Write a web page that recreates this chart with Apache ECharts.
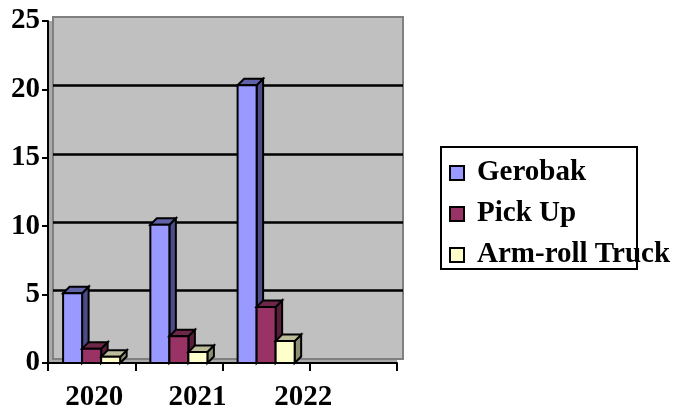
<!DOCTYPE html>
<html>
<head>
<meta charset="utf-8">
<script src="https://cdn.jsdelivr.net/npm/echarts@6/dist/echarts.min.js"></script>
<style>
  html, body { margin: 0; padding: 0; background: #ffffff; }
  #chart { width: 675px; height: 412px; }
</style>
</head>
<body>
<div id="chart"></div>
<script>
const years = ['2020', '2021', '2022', ''];
const yTicks = [0, 5, 10, 15, 20, 25];
const seriesNames = ['Gerobak', 'Pick Up', 'Arm-roll Truck'];
const gerobak = [5.1, 10.1, 20.3];
const pickUp = [1.05, 1.95, 4.1];
const armRoll = [0.45, 0.8, 1.6];

// front / side / top shading of each 3d bar
const faces = [
  { front: '#9999FF', side: '#4C4C88', top: '#6262A8' },
  { front: '#993366', side: '#5A1E3C', top: '#6E2649' },
  { front: '#FFFFCC', side: '#8E8E74', top: '#BDBD9C' }
];
const labelFont = 'Liberation Serif, Times New Roman, serif';

function bar3d(k) {
  return function (params, api) {
    const cat = api.value(0);
    const val = api.value(1);
    const top = api.coord([cat, val]);
    const base = api.coord([cat, 0]);
    const slot = api.size([1, 0])[0];
    const bw = slot * 0.218;
    const d = 6.5;
    const x0 = top[0] + (k - 1.5) * bw;
    const x1 = x0 + bw;
    const yt = top[1];
    const yb = base[1];
    const stroke = { stroke: '#000', lineWidth: 2, lineJoin: 'miter' };
    return {
      type: 'group',
      children: [
        {
          type: 'polygon',
          shape: { points: [[x1, yt], [x1 + d, yt - d], [x1 + d, yb - d], [x1, yb]] },
          style: Object.assign({ fill: faces[k].side }, stroke)
        },
        {
          type: 'polygon',
          shape: { points: [[x0, yt], [x0 + d, yt - d], [x1 + d, yt - d], [x1, yt]] },
          style: Object.assign({ fill: faces[k].top }, stroke)
        },
        {
          type: 'rect',
          shape: { x: x0, y: yt, width: bw, height: yb - yt },
          style: Object.assign({ fill: faces[k].front }, stroke)
        }
      ]
    };
  };
}

function toData(arr) {
  return arr.map((v, i) => [i, v]);
}

const xRich = {
  l0: { padding: [0, 0, 0, 5] },
  l1: { padding: [0, 0, 0, 37] },
  l2: { padding: [0, 0, 0, 74] },
  l3: {}
};
Object.keys(xRich).forEach(k => {
  Object.assign(xRich[k], { fontFamily: labelFont, fontWeight: 'bold', fontSize: 29, color: '#000' });
});

const option = {
  animation: false,
  backgroundColor: '#ffffff',
  graphic: [
    {
      type: 'rect',
      z: 1,
      shape: { x: 441, y: 147, width: 196, height: 122 },
      style: { fill: '#ffffff', stroke: '#000', lineWidth: 2 }
    }
  ],
  legend: {
    orient: 'vertical',
    left: 449,
    top: 157,
    padding: 0,
    z: 5,
    itemWidth: 14,
    itemHeight: 14,
    itemGap: 9,
    icon: 'rect',
    itemStyle: { borderColor: '#000', borderWidth: 2 },
    textStyle: {
      fontFamily: labelFont,
      fontWeight: 'bold',
      fontSize: 29,
      lineHeight: 32,
      color: '#000',
      padding: [0, 0, 0, 8]
    },
    data: seriesNames
  },
  grid: [
    // front plane: axes, bars, side wall and floor
    { left: 48, right: 278, top: 21, bottom: 48, show: true, backgroundColor: '#A9A9A9', borderWidth: 0 },
    // back wall
    { left: 53, right: 272, top: 17, bottom: 53, show: true, backgroundColor: '#C0C0C0', borderColor: '#808080', borderWidth: 2 }
  ],
  xAxis: [
    {
      type: 'category',
      gridIndex: 0,
      data: years,
      boundaryGap: true,
      axisLine: { show: true, lineStyle: { color: '#000', width: 2 } },
      axisTick: { show: true, length: 8, lineStyle: { color: '#000', width: 2 } },
      axisLabel: {
        margin: 20,
        interval: 0,
        formatter: (value, index) => value ? '{l' + index + '|' + value + '}' : '',
        rich: xRich
      },
      splitLine: { show: false }
    },
    {
      type: 'value',
      gridIndex: 1,
      show: false
    }
  ],
  yAxis: [
    {
      type: 'value',
      gridIndex: 0,
      min: yTicks[0],
      max: yTicks[yTicks.length - 1],
      interval: 5,
      axisLine: { show: true, lineStyle: { color: '#000', width: 2 } },
      axisTick: { show: true, length: 6, lineStyle: { color: '#000', width: 2 } },
      axisLabel: {
        margin: 8,
        fontFamily: labelFont,
        fontWeight: 'bold',
        fontSize: 29,
        color: '#000'
      },
      splitLine: { show: false }
    },
    {
      type: 'value',
      gridIndex: 1,
      min: yTicks[0],
      max: yTicks[yTicks.length - 1],
      interval: 5,
      axisLine: { show: false },
      axisTick: { show: false },
      axisLabel: { show: false },
      splitLine: {
        show: true,
        showMinLine: false,
        showMaxLine: false,
        lineStyle: { color: '#000', width: 2.5 }
      }
    }
  ],
  series: [gerobak, pickUp, armRoll].map((arr, k) => ({
    name: seriesNames[k],
    type: 'custom',
    xAxisIndex: 0,
    yAxisIndex: 0,
    z: 3,
    itemStyle: { color: faces[k].front },
    encode: { x: 0, y: 1 },
    renderItem: bar3d(k),
    data: toData(arr)
  }))
};

const myChart = echarts.init(document.getElementById('chart'), null, { renderer: 'canvas' });
myChart.setOption(option);
</script>
</body>
</html>
